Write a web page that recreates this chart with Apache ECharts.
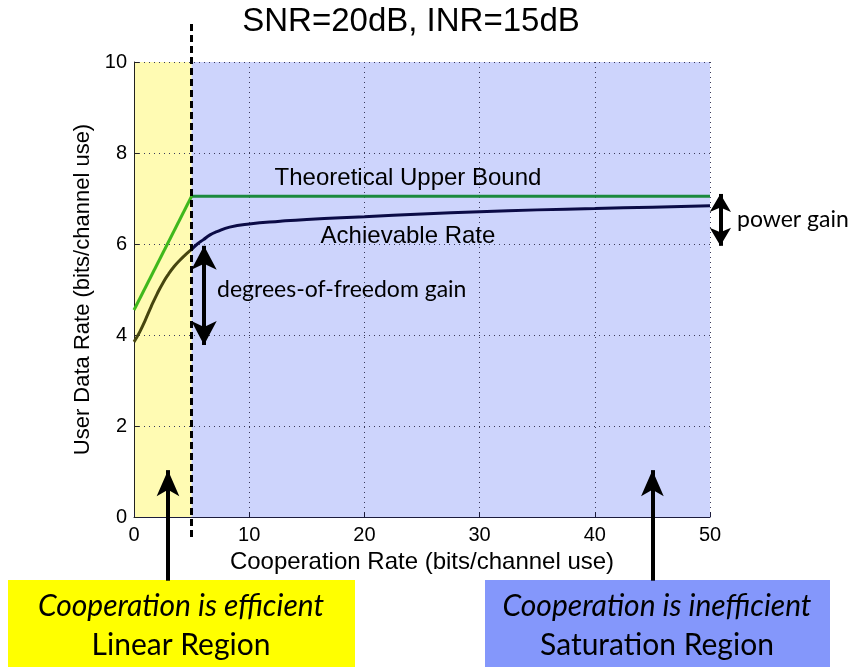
<!DOCTYPE html>
<html>
<head>
<meta charset="utf-8">
<script src="https://cdn.jsdelivr.net/npm/echarts@6/dist/echarts.min.js"></script>
<style>
  html, body { margin: 0; padding: 0; background: #fff; }
  #chart { width: 849px; height: 667px; }
</style>
</head>
<body>
<div id="chart"></div>
<script>
// cooperation rate (bits/channel use) and rates
const upperLinX = [0, 5];
const upperLinY = [4.55, 7.05];
const upperSatX = [5, 50];
const upperSatY = [7.05, 7.05];

const achLinX = [0, 0.5, 1, 1.5, 2, 2.5, 3, 3.5, 4, 4.5, 5];
const achLinY = [3.85, 4.07, 4.34, 4.63, 4.9, 5.14, 5.34, 5.51, 5.65, 5.77, 5.88];
const achSatX = [5, 5.5, 6, 6.6, 7.2, 8.3, 10, 12.7, 15, 20, 25, 30, 35, 40, 45, 50];
const achSatY = [5.88, 6.0, 6.09, 6.2, 6.27, 6.37, 6.44, 6.5, 6.54, 6.6, 6.66, 6.71, 6.75, 6.78, 6.81, 6.84];

const xTicks = [0, 10, 20, 30, 40, 50];
const yTicks = [0, 2, 4, 6, 8, 10];

// boundary between linear and saturation regions
const splitX = 5;
const splitSpan = [-0.44, 10.85];

// annotation arrows, in data units: [x, from y, to y]
const dofArrow = [6.08, 5.96, 3.78];
const powerArrow = [50.9, 7.1, 5.96];
const linearPointer = [2.95, -1.4, 1.03];
const saturationPointer = [45.0, -1.4, 1.03];

const chart = echarts.init(document.getElementById('chart'));

function pairs(xs, ys) {
  return xs.map((x, i) => [x, ys[i]]);
}

const option = {
  animation: false,
  backgroundColor: '#fff',
  title: {
    text: 'SNR=20dB, INR=15dB',
    left: 406,
    top: 0,
    textAlign: 'center',
    textStyle: {
      fontFamily: 'Liberation Sans',
      fontSize: 33,
      fontWeight: 'normal',
      color: '#000'
    }
  },
  grid: {
    left: 134,
    right: 139,
    top: 62,
    bottom: 150
  },
  xAxis: {
    type: 'value',
    min: xTicks[0],
    max: xTicks[xTicks.length - 1],
    interval: 10,
    z: 1.5,
    name: 'Cooperation Rate (bits/channel use)',
    nameLocation: 'middle',
    nameGap: 31,
    nameTextStyle: { fontFamily: 'Liberation Sans', fontSize: 24, color: '#000' },
    axisLine: { lineStyle: { color: '#1c1c3c', width: 1 } },
    axisTick: { inside: true, length: 5, lineStyle: { color: '#1c1c3c' } },
    axisLabel: { margin: 8, fontFamily: 'Liberation Sans', fontSize: 20, color: '#000' },
    splitLine: { show: true, lineStyle: { color: '#3a3a5a', width: 1, type: [1, 4] } }
  },
  yAxis: {
    type: 'value',
    min: yTicks[0],
    max: yTicks[yTicks.length - 1],
    interval: 2,
    z: 1.5,
    name: 'User Data Rate (bits/channel use)',
    nameLocation: 'middle',
    nameGap: 35,
    nameTextStyle: { fontFamily: 'Liberation Sans', fontSize: 22, color: '#000' },
    axisLine: { show: true, lineStyle: { color: '#222', width: 1 } },
    axisTick: { show: true, inside: true, length: 5, lineStyle: { color: '#222' } },
    axisLabel: { margin: 7, fontFamily: 'Liberation Sans', fontSize: 20, color: '#000' },
    splitLine: { show: true, lineStyle: { color: '#3a3a5a', width: 1, type: [1, 4] } }
  },
  series: [
    {
      type: 'line',
      id: 'upperSat',
      data: pairs(upperSatX, upperSatY),
      showSymbol: false,
      lineStyle: { color: '#1b8a3e', width: 3 },
      markArea: {
        silent: true,
        data: [
          [{ xAxis: xTicks[0], itemStyle: { color: '#fffbb3' } }, { xAxis: splitX }],
          [{ xAxis: splitX, itemStyle: { color: '#cdd4fc' } }, { xAxis: xTicks[xTicks.length - 1] }]
        ]
      }
    },
    {
      type: 'line',
      id: 'upperLin',
      data: pairs(upperLinX, upperLinY),
      showSymbol: false,
      lineStyle: { color: '#3fb81c', width: 3 }
    },
    {
      type: 'line',
      id: 'achLin',
      data: pairs(achLinX, achLinY),
      showSymbol: false,
      smooth: 0.5,
      lineStyle: { color: '#46450f', width: 3 }
    },
    {
      type: 'line',
      id: 'achSat',
      data: pairs(achSatX, achSatY),
      showSymbol: false,
      smooth: 0.5,
      lineStyle: { color: '#0b0b46', width: 3 }
    }
  ],
  graphic: [
    { type: 'rect', z: 0, shape: { x: 8, y: 580, width: 347, height: 90 }, style: { fill: '#ffff00' } },
    { type: 'rect', z: 0, shape: { x: 485, y: 580, width: 345, height: 90 }, style: { fill: '#8497fb' } },
    {
      type: 'text', z: 20, x: 181, y: 606,
      style: { text: 'Cooperation is efficient', fontFamily: 'Lato', fontStyle: 'italic', fontSize: 30, fill: '#000', align: 'center', verticalAlign: 'middle' }
    },
    {
      type: 'text', z: 20, x: 181, y: 645,
      style: { text: 'Linear Region', fontFamily: 'Lato', fontSize: 30, fill: '#000', align: 'center', verticalAlign: 'middle' }
    },
    {
      type: 'text', z: 20, x: 657, y: 606,
      style: { text: 'Cooperation is inefficient', fontFamily: 'Lato', fontStyle: 'italic', fontSize: 30, fill: '#000', align: 'center', verticalAlign: 'middle' }
    },
    {
      type: 'text', z: 20, x: 657, y: 645,
      style: { text: 'Saturation Region', fontFamily: 'Lato', fontSize: 30, fill: '#000', align: 'center', verticalAlign: 'middle' }
    },
    {
      type: 'text', z: 20, x: 408, y: 178,
      style: { text: 'Theoretical Upper Bound', fontFamily: 'Liberation Sans', fontSize: 24, fill: '#000', align: 'center', verticalAlign: 'middle' }
    },
    {
      type: 'text', z: 20, x: 408, y: 236,
      style: { text: 'Achievable Rate', fontFamily: 'Liberation Sans', fontSize: 24, fill: '#000', align: 'center', verticalAlign: 'middle' }
    },
    {
      type: 'text', z: 20, x: 217, y: 290,
      style: { text: 'degrees-of-freedom gain', fontFamily: 'Lato', fontSize: 23, fill: '#000', align: 'left', verticalAlign: 'middle' }
    },
    {
      type: 'text', z: 20, x: 737, y: 220,
      style: { text: 'power gain', fontFamily: 'Lato', fontSize: 23, fill: '#000', align: 'left', verticalAlign: 'middle' }
    }
  ]
};

chart.setOption(option);

// markers outside the axis range are dropped by ECharts, so place them in
// pixels converted through the grid's own scales
function px(x, y) {
  return chart.convertToPixel({ gridIndex: 0 }, [x, y]);
}

function vLine(spec, startSymbol, endSymbol, size) {
  const a = px(spec[0], spec[1]);
  const b = px(spec[0], spec[2]);
  return [
    { x: a[0], y: a[1], symbol: startSymbol, symbolSize: size },
    { x: b[0], y: b[1], symbol: endSymbol, symbolSize: size }
  ];
}

const guide = vLine([splitX, splitSpan[0], splitSpan[1]], 'none', 'none', 0);
guide[0].lineStyle = { color: '#000', width: 3, type: [7, 4] };

chart.setOption({
  series: [
    {
      id: 'achSat',
      markLine: {
        silent: true,
        animation: false,
        label: { show: false },
        lineStyle: { color: '#000', width: 4, type: 'solid' },
        data: [
          guide,
          vLine(dofArrow, 'arrow', 'arrow', [19, 24]),
          vLine(powerArrow, 'arrow', 'arrow', [16, 18]),
          vLine(linearPointer, 'none', 'arrow', [17, 26]),
          vLine(saturationPointer, 'none', 'arrow', [17, 26])
        ]
      }
    }
  ]
});
</script>
</body>
</html>
